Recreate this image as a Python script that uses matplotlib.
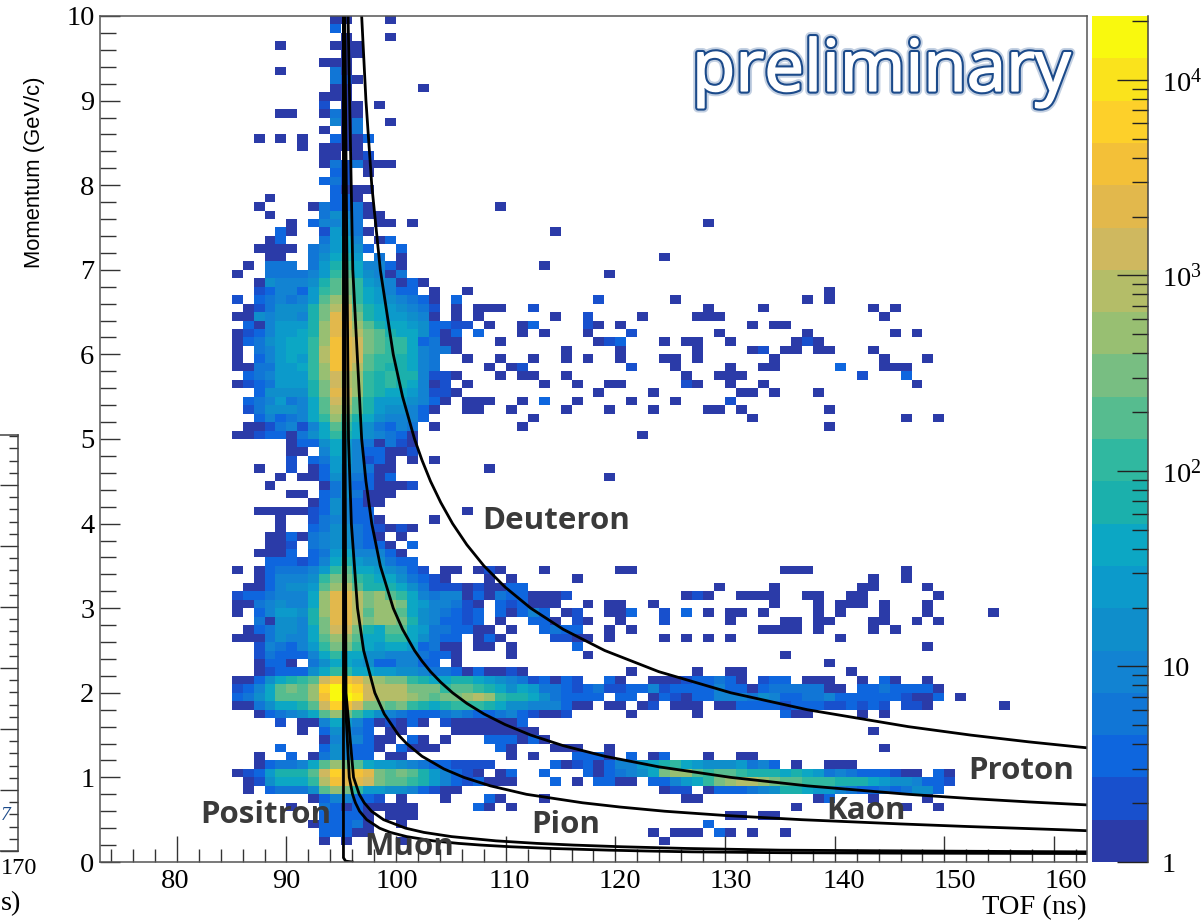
import numpy as np
import matplotlib
matplotlib.use('Agg')
import matplotlib.pyplot as plt
from matplotlib.colors import ListedColormap, LogNorm
from matplotlib.ticker import MultipleLocator, LogLocator, NullFormatter
import matplotlib.patheffects as pe

# colour band of each 1 ns x 0.1 GeV/c cell
# '.' empty, 1-9 then a=10 ... k=20. first row is p=9.9-10, first column is 85 ns
band_rows = [
    ".........1 1...1.....",
    ".........3",
    ".......... 1...1.....",
    "....1....1 11........",
    ".......... 11........",
    "........11 1.........",
    "....1....4 1.........",
    ".........4 21........",
    ".........1 1......1..",
    "........11 1.........",
    "........2. 11.1......",
    "....11..14 11........",
    ".........5 14..1.....",
    "........1. 14........",
    "..1.1.1..3 113.......",
    "......1.11 11........",
    "........11 .12.......",
    "........14 24111.....",
    ".........3 2.1.......",
    "........34 2.........",
    ".........3 111.......",
    "...1.....3 31........",
    "..1....143 341....... ....1.....",
    "...1....46 5411......",
    ".....1.355 64.11.1... .......... .......... ...1......",
    "....31..27 641....... .........1",
    "...13...47 85.13.....",
    "..1111.457 863..3....",
    "...11..468 97.4.1.... .......... .........1",
    ".1.444.479 a85531.... ........1.",
    "1..444457a b86514.... .......... ....1.....",
    "..1655569b ca765131..",
    "..235537ab ca87533.1. .1........ .......... .......... ....1.....",
    "2.345457bd da8765431. 3......... ...2...... 1......... ..1.1.....",
    ".1246669ce fb9876542. 1.111..2.. .......... ...1....1. ........1. 1.........",
    "11656659cg fc9877651. 1.1......1 ..2....1.. ..111..... .........1",
    ".3157779dg gdb9887633 22.1..13.. ..21.1.... .......1.1 1.........",
    "12357789dg fecb988631 3.3...1.1. ..1...2... ....1..... ..1....... 1.1.......",
    "1346788adh gfcbaa8341 1...1..... ...123...1 .11..1.... .121......",
    "1.45788aeh gfcbaa8544 1......... 1....1.... ..1....12. 11.11...1.",
    "1.35787aeh gfbaa9854. .1..1..1.. 1.1..1...1 1.1......1 .........1 ...1......",
    "1144778adh geba99854. ...1.12... ......2... 1....1..11 .....3...1 11........",
    ".345777adf eda9a99522 1...1.11.. 1......... .1..111... .......2.. .3........",
    "12347779cf eda9a98512 .1......1. .1..11.... .21..1..1. .......... ..1.......",
    "..366669cg fda9887522 1......... ...1....1. ......11.1 ...1......",
    ".3457458bf eb97776531 .111..1.3. .1....1... 1....2....",
    ".2466658be db9766531. .11..1.... 1...1...1. ...11.1... ....1.....",
    "..353458ad b9865553.. .......1.. .......... .......1.. .......... .1..1.....",
    ".11245258b a864354.1. ......1... .......... .......... ....1.....",
    "112331468a 9865431... .......... .......1..",
    ".....13368 7541421...",
    ".....11.58 7533112...",
    ".....2.347 75231.1.1.",
    "..1..2.137 65411..... ...1......",
    "....1.1136 54313..... .......... ....1.....",
    "...1....14 5331112...",
    ".....11.34 64111.....",
    ".......136 5311......",
    "..11111236 533....... .1........",
    "....1..245 5331....1.",
    "....1..346 6432121...",
    "...1131456 6431.1....",
    "...112.456 64331.3...",
    "..1113.347 855531....",
    "...3332358 9766433...",
    "1.1344457a b8876532.1 1.121...1. .....11... .......... 111....... .1........",
    "..135556ac ca98864321 ...1.1.... .1........ .......... ........1. .1........",
    ".1135667bd eb99986422 2121133... .......... ....1....1 .......11. ...1......",
    "23345558dg gecdba8545 5131433111 2......... .121..1111 ..11..11.. ....1.....",
    "11456558dg gecddc8755 421.323111 ..1.11..1. .........1 ...1.111.1 ...1......",
    "1.357769dg gebddb8654 323.31353. 12..113..2 .3.1.11.1. ...1.1...1 ...1.....1",
    "..416659cg gecddc9653 323.1..331 .21..1...2 .....1.... 11.11...11 ..1.1.....",
    ".1346658cf fc98bb8744 3311.1..34 33..1.1... ........11 11.1....1. 1.........",
    "11146558bd db88aa8643 3.131....2 211.1....1 .1.1.1.... .....1....",
    "..254357ac ca87887341 1.11.1.... .3........ .......... .......... ...1......",
    "..2433358a 8866555433 1....1.... ..1....... .......... 1.........",
    "..1331.468 876335533. 1......... .......... .......... ....1.....",
    "..1233368a a887766544 3131121... ......1... ..1..11... ......1...",
    "113689abfh hgedcca988 9987654231 32..31..11 1233431.23 3.111..1.3 1..1......",
    "2358bcbdik jifeeeccca bba9868744 3234223352 3333533134 444411.334 33331.....",
    "3468bbbdhk kjfeeedcbc cdeda99864 3333.33.13 2133555465 3344533333 32113.1...",
    "1146889bfi hfccbca989 aaa9866555 311.11.12. 111.113333 2333223232 .221...... 1",
    "..134568bd ca86543334 5433453211 2.....1... ..1....... 311....1.1",
    "....2.1158 75312131.2 1111113...",
    "......1.36 543.11.... 11111111.. .......... .......... ........1.",
    "........15 55311.31.1 ...333131.",
    "....3...36 5331.3111. ....31...1 11..1..... .......... .........1",
    "..1..3.146 533.11.... .....1.1.. .3331.3.13 ...1..11..",
    "..134458bd cb87765433 2222.....3 1231355789 a876667453 .1..111...",
    "1237999bfi ghgcbcb975 321.13..3. ..3134568c ddbabba999 8987454333 211.31....",
    ".126888aeh ggfcbba975 323111...3 .1.3311.33 578acdeedc bbaaa99987 665332....",
    ".1.34446bd ca77665321 1......... .........1 22.1333456 9987754334 34663.....",
    ".......135 5332.1...1 ...31...1. .......... .11....... ...13...1. ...1......",
    ".....1..43 1311111... ..31.1.... .......... .......... .1........ .1..1.....",
    "........33 331.111... .......... .......... .....11.11",
    ".......133 341..1.... .......... .......... ...3......",
    "........33 311....... .......... ........1. 111.31.1.. 1.........",
    "........1. 1....1.... .......... .........1",
    "",
    "",
]

# counts standing for each band, 1..20
band_counts = [1.28, 2.1, 3.5, 5.7, 9.4, 15.5, 25, 42, 69, 114, 187, 308, 507, 835,
               1375, 2260, 3720, 6130, 10090, 16600]
band_colors = ['#2B3BA8', '#1850CD', '#0E66DE', '#1176D6', '#1283D2', '#0F8ECB', '#0C9ACB',
               '#0CA7C4', '#1BB0AC', '#30B8A0', '#56BC8F', '#78BE82', '#98BF72', '#B4BD68',
               '#CFB85F', '#E2B84C', '#F3C038', '#FDD02A', '#FAE31C', '#F9F90E']
z_min, z_max = 1, 21240

tof_edges = np.arange(85, 157)
mom_edges = np.arange(0, 101) / 10

# curves: momentum (GeV/c) and TOF (ns)
positron_p = [10, 0.05, 0.01, 0]
positron_t = [95.2, 95.2, 95.4, 96.0]
muon_p = [10, 2, 1, .8, .7, .6, .5, .4, .35, .3, .25, .22, .2, .18, .16, .14, .13, .12, .11, .105, .1]
muon_t = [95.21, 95.33, 95.73, 96.03, 96.29, 96.67, 97.32, 98.49, 99.47, 100.97, 103.4, 105.67,
          107.74, 110.48, 114.2, 119.4, 122.8, 127.0, 135.0, 145.0, 163.0]
pion_p = [10, 2, 1, .8, .7, .6, .5, .4, .35, .3, .25, .22, .2, .18, .16, .14, .13, .125, .12]
pion_t = [95.21, 95.43, 96.12, 96.64, 97.09, 97.76, 98.86, 100.86, 102.53, 105.06, 109.11, 112.84,
          116.2, 120.6, 126.5, 135.0, 148.0, 155.0, 163.0]
kaon_p = [10, 5, 4, 3, 2.5, 2, 1.75, 1.5, 1.4, 1.25, 1.1, 1, .9, .8, .7, .65, .6, .55, .5, .45, .42, .4, .38, .37]
kaon_t = [95.32, 95.66, 95.92, 96.48, 97.04, 98.06, 98.92, 100.23, 100.96, 102.36, 104.36, 106.18, 108.6,
          111.89, 117.0, 120.4, 124.5, 130.0, 137.0, 146.0, 152.0, 156.5, 161.0, 163.0]
proton_p = [10, 7, 5, 4.5, 4, 3.5, 3, 2.75, 2.5, 2.375, 2.25, 2.125, 2, 1.875, 1.75, 1.625, 1.5, 1.375,
            1.25, 1.125, 1, .9, .8, .75, .71, .68, .67]
proton_t = [95.62, 96.05, 96.86, 97.25, 97.78, 98.56, 99.74, 100.59, 101.68, 102.36, 103.14, 104.07, 105.15,
            106.45, 108.01, 109.93, 112.28, 115.24, 119.02, 123.95, 130.53, 137.5, 146.7, 152.4, 157.7, 162.2, 163.8]
deuteron_p = [10, 9, 8, 7, 6, 5.5, 5, 4.75, 4.5, 4.25, 4, 3.75, 3.5, 3.25, 3, 2.75, 2.5, 2.25, 2, 1.8, 1.6,
              1.5, 1.42, 1.36, 1.34]
deuteron_t = [96.86, 97.25, 97.78, 98.56, 99.74, 100.59, 101.68, 102.36, 103.14, 104.07, 105.15, 106.45,
              108.01, 109.93, 112.28, 115.24, 119.02, 123.95, 130.53, 137.5, 146.7, 152.4, 157.7, 162.2, 163.8]
curves = [(positron_t, positron_p), (muon_t, muon_p), (pion_t, pion_p),
          (kaon_t, kaon_p), (proton_t, proton_p), (deuteron_t, deuteron_p)]

x_tick_labels = ['80', '90', '100', '110', '120', '130', '140', '150', '160']
x_label_px = [175, 286, 397, 509, 620, 731, 844, 955, 1066]
particle_names = ['Deuteron', 'Proton', 'Kaon', 'Pion', 'Muon', 'Positron']
particle_px = [(556, 521), (1021, 771), (866, 811), (566, 825), (409, 847), (266, 815)]

W, H = 1201, 923
plt.rcParams['font.family'] = ['Liberation Serif', 'DejaVu Serif']
plt.rcParams['mathtext.fontset'] = 'custom'
plt.rcParams['mathtext.rm'] = 'Liberation Serif'
plt.rcParams['mathtext.default'] = 'rm'


def box(left, top, right, bottom):
    return [left / W, 1 - bottom / H, (right - left) / W, (bottom - top) / H]


def put(x, y, s, **kw):
    return fig.text(x / W, 1 - y / H, s, **kw)


grid = np.full((100, 71), np.nan)
for k, row in enumerate(band_rows):
    for i, ch in enumerate(row.replace(' ', '')):
        if ch != '.':
            grid[99 - k, i] = band_counts[int(ch, 36) - 1]

fig = plt.figure(figsize=(W / 100, H / 100), dpi=100)

ax = fig.add_axes(box(100, 16, 1087, 862))
mesh = ax.pcolormesh(tof_edges, mom_edges, np.ma.masked_invalid(grid),
                     cmap=ListedColormap(band_colors), norm=LogNorm(z_min, z_max),
                     antialiased=False)
for t, p in curves:
    ax.plot(t, p, color='black', lw=2.0, solid_joinstyle='round')
ax.set_xlim(73, 163)
ax.set_ylim(0, 10)
ax.xaxis.set_major_locator(MultipleLocator(10))
ax.xaxis.set_minor_locator(MultipleLocator(2))
ax.yaxis.set_major_locator(MultipleLocator(1))
ax.yaxis.set_minor_locator(MultipleLocator(0.2))
ax.tick_params(axis='x', which='major', direction='in', length=19, width=1, color='#333333', labelbottom=False)
ax.tick_params(axis='x', which='minor', direction='in', length=9.5, width=1, color='#333333')
ax.tick_params(axis='y', which='major', direction='in', length=14.5, width=1, color='#333333',
               labelsize=20.5, pad=4)
ax.tick_params(axis='y', which='minor', direction='in', length=11.5, width=1, color='#333333')
for s in ax.spines.values():
    s.set_color('#555555')
    s.set_linewidth(1.1)

for lab, px in zip(x_tick_labels, x_label_px):
    put(px, 882, lab, ha='center', va='center', fontsize=20.5)
put(1087, 908, 'TOF (ns)', ha='right', va='center', fontsize=20.5)
put(35, 172, 'Momentum (GeV/c)', rotation=90, ha='center', va='center', fontsize=15.8,
    family=['Liberation Sans', 'DejaVu Sans'])

for name, (px, py) in zip(particle_names, particle_px):
    put(px, py, name, ha='center', va='center', fontsize=22.5, fontweight='bold',
        color='#3a3a3a', family=['Open Sans', 'DejaVu Sans'])

prelim = put(881, 72, 'preliminary', ha='center', va='center', fontsize=51,
             color='white', family=['Open Sans', 'DejaVu Sans'])
prelim.set_path_effects([pe.withStroke(linewidth=7, foreground='#c3d0e2'),
                         pe.withStroke(linewidth=4.2, foreground='#1b4a8a'),
                         pe.withStroke(linewidth=1.2, foreground='white'),
                         pe.Normal()])

# colour scale
cax = fig.add_axes(box(1092, 16, 1148, 862))
cbar = fig.colorbar(mesh, cax=cax)
cbar.outline.set_visible(False)
cax.spines['right'].set_visible(True)
cbar.set_ticks([1, 10, 100, 1000, 10000])
cbar.set_ticklabels(['1', '10', '$10^{2}$', '$10^{3}$', '$10^{4}$'])
cax.yaxis.set_minor_locator(LogLocator(base=10, subs=range(2, 10), numticks=12))
cax.yaxis.set_minor_formatter(NullFormatter())
cax.tick_params(which='major', direction='in', length=22, width=1, color='#222222', labelsize=20.5, pad=10)
cax.tick_params(which='minor', direction='in', length=11.5, width=1, color='#222222')
cax.spines['right'].set_color('#444444')
cax.spines['right'].set_linewidth(1.1)

# piece of the neighbouring panel, cut off by the page edge
side = fig.add_axes(box(-60, 435, 18, 851))
side.set_xlim(0, 1)
side.set_ylim(0, 6.82)
side.set_xticks([])
side.yaxis.tick_right()
side.yaxis.set_major_locator(MultipleLocator(1))
side.yaxis.set_minor_locator(MultipleLocator(0.2))
side.tick_params(axis='y', which='major', direction='in', length=13, width=1, color='#333333', labelright=False)
side.tick_params(axis='y', which='minor', direction='in', length=6.5, width=1, color='#333333')
for s in side.spines.values():
    s.set_color('#444444')
    s.set_linewidth(1.1)
side.set_facecolor('none')
put(1, 868, '170', ha='left', va='center', fontsize=17.5)
put(1, 904, 's)', ha='left', va='center', fontsize=20.5)
put(1, 815, '7', ha='left', va='center', fontsize=14, color='#1b4a8a', style='italic')

fig.savefig('out.png', dpi=100)
